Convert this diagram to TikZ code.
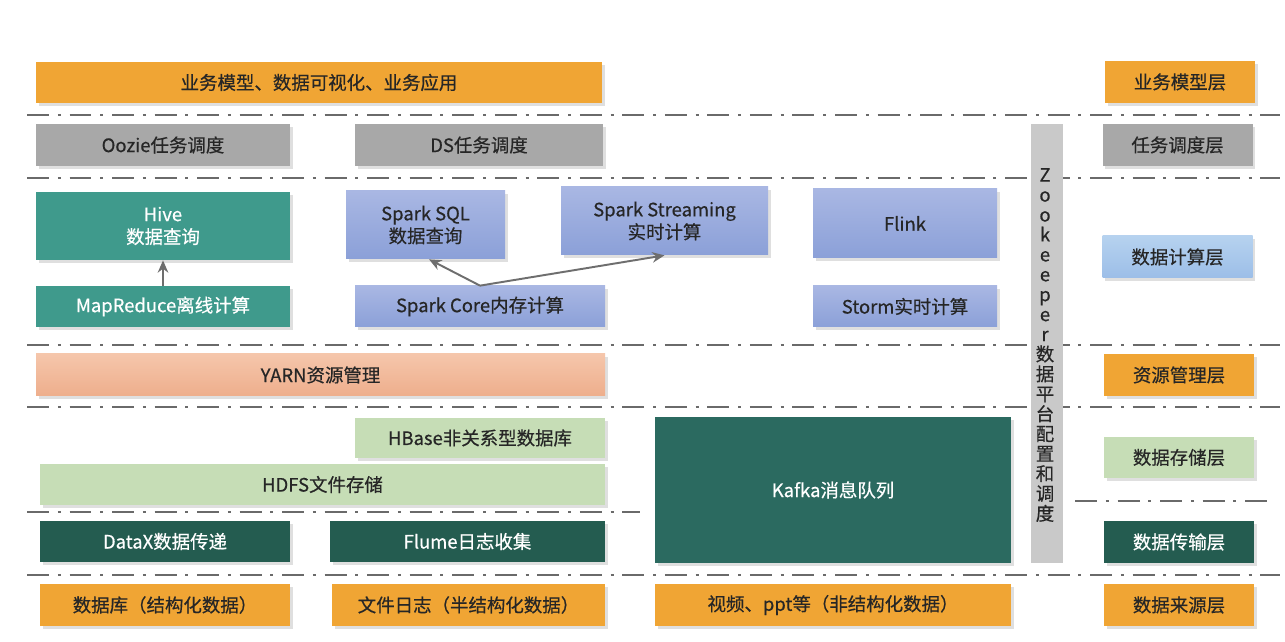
\documentclass[tikz,border=0pt]{standalone}
\usepackage{fontspec}
\setmainfont{Noto Sans CJK SC}[FakeBold=0.5]
\usetikzlibrary{shadows,arrows.meta}

\definecolor{orng}{HTML}{F0A534}
\definecolor{grey}{HTML}{A8A8A8}
\definecolor{teal}{HTML}{3F9A8C}
\definecolor{bluetop}{HTML}{A9B7E3}
\definecolor{bluebot}{HTML}{8BA0D8}
\definecolor{skytop}{HTML}{B6D2EF}
\definecolor{skybot}{HTML}{9CBEE8}
\definecolor{salmtop}{HTML}{F5C6AB}
\definecolor{salmbot}{HTML}{EEAE8C}
\definecolor{lgreen}{HTML}{C6DDB6}
\definecolor{kafka}{HTML}{2B6A60}
\definecolor{dgreen}{HTML}{245C50}
\definecolor{zk}{HTML}{C9C9C9}
\definecolor{sepgray}{HTML}{6A6A6A}
\definecolor{arrgray}{HTML}{6E6E6E}

\begin{document}
\begin{tikzpicture}[
  box/.style={rectangle, inner sep=0pt, align=center, text=black!85,
    font=\fontsize{10.5}{12.8}\selectfont,
    drop shadow={shadow xshift=1.6pt, shadow yshift=-1.6pt, opacity=0.25}},
  orangebox/.style={box, fill=orng},
  greybox/.style={box, fill=grey},
  tealbox/.style={box, fill=teal, text=white},
  bluebox/.style={box, top color=bluetop, bottom color=bluebot},
  greenbox/.style={box, fill=lgreen},
  darkbox/.style={box, fill=dgreen, text=white},
  sep/.style={draw=sepgray, line width=1.5pt,
    dash pattern=on 12.5pt off 5pt on 1.7pt off 5pt},
  arr/.style={draw=arrgray, line width=1.1pt, -{Stealth[length=7pt,width=6pt]}}
]
\fill[white] (0,0) rectangle (25.7,12.82);
\useasboundingbox (0,0) rectangle (25.7,12.82);

% layer separators
\draw[sep] (0.54,10.52) -- (25.6,10.52);
\draw[sep] (0.54,9.26) -- (25.6,9.26);
\draw[sep] (0.54,5.92) -- (25.6,5.92);
\draw[sep] (0.54,4.68) -- (25.6,4.68);
\draw[sep] (0.54,2.58) -- (12.8,2.58);
\draw[sep] (21.5,2.80) -- (25.5,2.80);
\draw[sep] (0.54,1.32) -- (25.6,1.32);

% business
\node[orangebox, minimum width=11.32cm, minimum height=0.82cm] (app) at (6.38,11.17) {业务模型、数据可视化、业务应用};

% scheduling
\node[greybox, minimum width=5.08cm, minimum height=0.84cm] (oozie) at (3.26,9.92) {Oozie任务调度};
\node[greybox, minimum width=4.96cm, minimum height=0.84cm] (ds) at (9.58,9.92) {DS任务调度};

% computing
\node[tealbox, minimum width=5.08cm, minimum height=1.36cm] (hive) at (3.26,8.30) {Hive\\数据查询};
\node[tealbox, minimum width=5.08cm, minimum height=0.82cm] (mapreduce) at (3.26,6.69) {MapReduce离线计算};
\node[bluebox, minimum width=3.18cm, minimum height=1.36cm] (sparksql) at (8.51,8.32) {Spark SQL\\数据查询};
\node[bluebox, minimum width=4.14cm, minimum height=1.36cm] (streaming) at (13.29,8.40) {Spark Streaming\\实时计算};
\node[bluebox, minimum width=5.0cm, minimum height=0.82cm] (sparkcore) at (9.60,6.69) {Spark Core内存计算};
\node[bluebox, minimum width=3.68cm, minimum height=1.38cm] (flink) at (18.10,8.35) {Flink};
\node[bluebox, minimum width=3.68cm, minimum height=0.82cm] (storm) at (18.10,6.69) {Storm实时计算};

\draw[arr] (mapreduce.north) -- (hive.south);
\draw[arr] (sparkcore.north) -- ([xshift=2pt]sparksql.south);
\draw[arr] (sparkcore.north) -- (streaming.south);

% resources
\node[box, top color=salmtop, bottom color=salmbot, minimum width=11.38cm, minimum height=0.84cm] (yarn) at (6.41,5.32) {YARN资源管理};

% storage
\node[greenbox, minimum width=5.0cm, minimum height=0.80cm] (hbase) at (9.60,4.06) {HBase非关系型数据库};
\node[greenbox, minimum width=11.30cm, minimum height=0.82cm] (hdfs) at (6.45,3.13) {HDFS文件存储};
\node[box, fill=kafka, text=white, minimum width=7.12cm, minimum height=2.92cm] (kafka) at (16.66,3.02) {Kafka消息队列};

% transfer
\node[darkbox, minimum width=5.0cm, minimum height=0.82cm] (datax) at (3.30,1.99) {DataX数据传递};
\node[darkbox, minimum width=5.5cm, minimum height=0.82cm] (flume) at (9.35,1.99) {Flume日志收集};

% sources
\node[orangebox, minimum width=5.0cm, minimum height=0.84cm] (database) at (3.30,0.72) {数据库（结构化数据）};
\node[orangebox, minimum width=5.46cm, minimum height=0.84cm] (logs) at (9.37,0.72) {文件日志（半结构化数据）};
\node[orangebox, minimum width=7.12cm, minimum height=0.84cm] (media) at (16.66,0.72) {视频、ppt等（非结构化数据）};

% zookeeper
\node[rectangle, fill=zk, minimum width=0.64cm, minimum height=8.78cm, inner sep=0pt] (zkbar) at (20.94,5.95) {};
\node[align=center, inner sep=0pt, text=black!85, font=\fontsize{10.5}{11.34}\selectfont] (zktext) at (20.90,5.92)
  {Z\\o\\o\\k\\e\\e\\p\\e\\r\\数\\据\\平\\台\\配\\置\\和\\调\\度};

% layer labels
\node[orangebox, minimum width=3.0cm, minimum height=0.84cm] (lbusiness) at (23.60,11.18) {业务模型层};
\node[greybox, minimum width=3.0cm, minimum height=0.84cm] (lschedule) at (23.55,9.92) {任务调度层};
\node[box, top color=skytop, bottom color=skybot, minimum width=3.0cm, minimum height=0.84cm] (lcompute) at (23.55,7.68) {数据计算层};
\node[orangebox, minimum width=3.0cm, minimum height=0.84cm] (lresource) at (23.58,5.32) {资源管理层};
\node[greenbox, minimum width=3.0cm, minimum height=0.82cm] (lstorage) at (23.58,3.67) {数据存储层};
\node[darkbox, minimum width=3.0cm, minimum height=0.84cm] (ltransfer) at (23.58,1.98) {数据传输层};
\node[orangebox, minimum width=3.0cm, minimum height=0.84cm] (lsource) at (23.58,0.72) {数据来源层};
\end{tikzpicture}
\end{document}
